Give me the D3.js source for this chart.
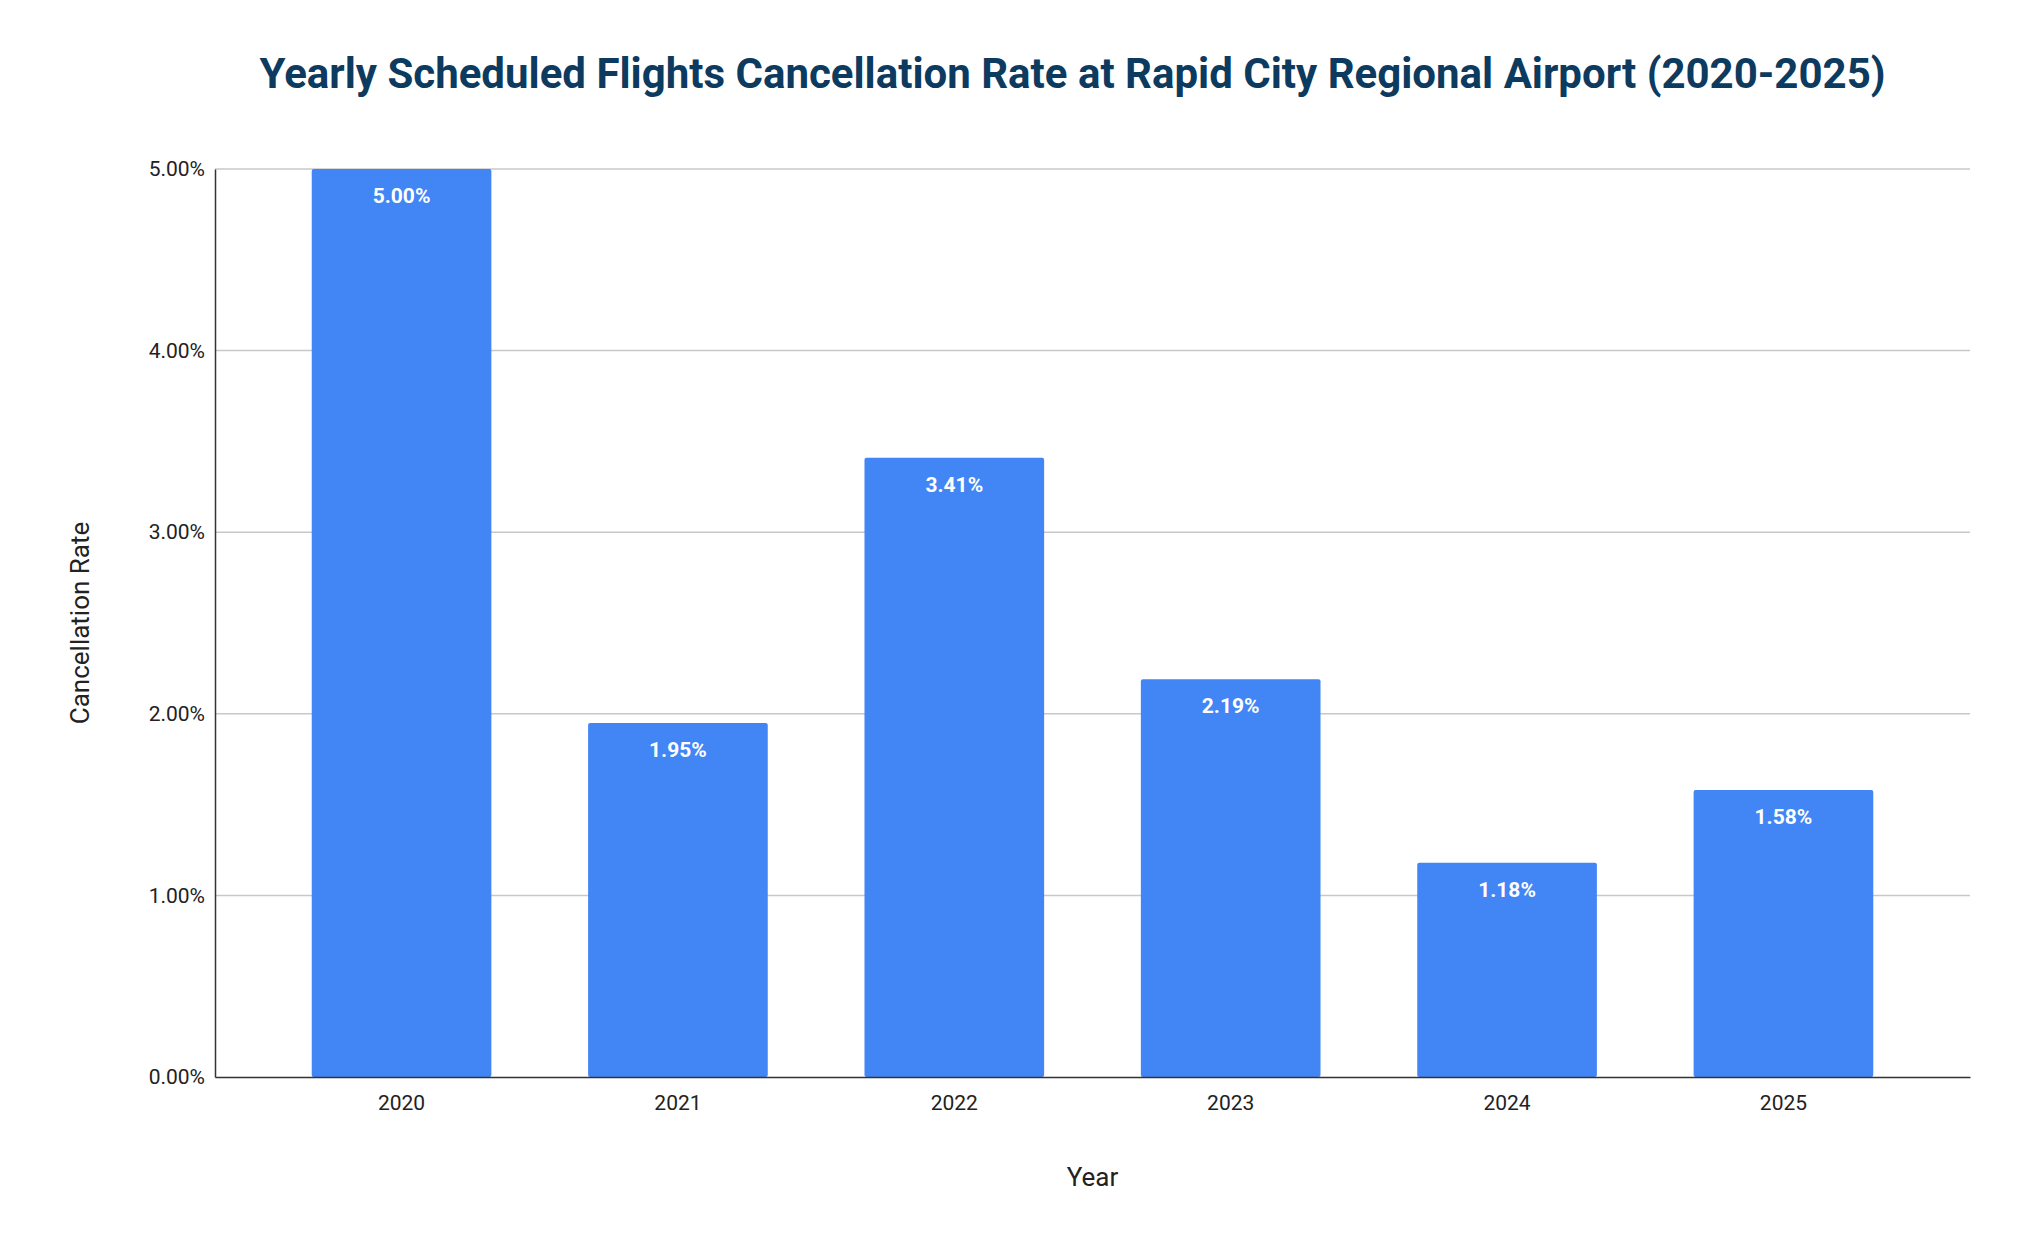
<!DOCTYPE html>
<html><head><meta charset="utf-8">
<script src="https://cdn.jsdelivr.net/npm/d3@7"></script>
<style>body{margin:0;background:#fff;font-family:Roboto,sans-serif;}</style>
</head><body><div id="chart"></div>
<script>
var years = ["2020","2021","2022","2023","2024","2025"];
var rates = [5.00, 1.95, 3.41, 2.19, 1.18, 1.58];
var yTicks = [0,1,2,3,4,5];

var W = 2024, H = 1250;
var m = {top:169, right:54, bottom:173, left:215};
var width = W - m.left - m.right, height = H - m.top - m.bottom;

var svg = d3.select("#chart").append("svg").attr("width", W).attr("height", H);
var g = svg.append("g").attr("transform", `translate(${m.left},${m.top})`);

var x = d3.scaleBand().domain(years).range([0, width]).paddingInner(0.35).paddingOuter(0.35);
var y = d3.scaleLinear().domain([0, 5]).range([height, 0]);

// grid
g.selectAll(".grid").data(yTicks.slice(1)).enter().append("line")
  .attr("x1", 0).attr("x2", width).attr("y1", d => y(d)).attr("y2", d => y(d))
  .attr("stroke", "#c8c8c8").attr("stroke-width", 1.5);

g.selectAll(".bar").data(rates).enter().append("rect")
  .attr("x", (d,i) => x(years[i])).attr("width", x.bandwidth())
  .attr("y", d => y(d)).attr("height", d => height - y(d))
  .attr("rx", 2).attr("fill", "#4285f4");

g.selectAll(".lbl").data(rates).enter().append("text")
  .attr("x", (d,i) => x(years[i]) + x.bandwidth()/2).attr("y", d => y(d) + 34)
  .attr("text-anchor", "middle").attr("fill", "#fff").attr("font-weight", "bold")
  .attr("font-size", 21).text(d => d.toFixed(2) + "%");

var yAxis = g.append("g").call(d3.axisLeft(y).tickValues(yTicks).tickFormat(d => d.toFixed(2) + "%").tickSize(0).tickPadding(10));
yAxis.select(".domain").attr("stroke", "#333").attr("stroke-width", 1.5);
yAxis.selectAll("text").attr("font-size", 21).attr("fill", "#222").attr("font-family", "Roboto");

var xAxis = g.append("g").attr("transform", `translate(0,${height})`)
  .call(d3.axisBottom(x).tickSize(0).tickPadding(18));
xAxis.select(".domain").attr("stroke", "#333").attr("stroke-width", 1.5);
xAxis.selectAll("text").attr("font-size", 21).attr("fill", "#222").attr("font-family", "Roboto");

svg.append("text").attr("x", m.left + width/2 - 20).attr("y", 88).attr("text-anchor", "middle")
  .attr("font-size", 42).attr("font-weight", "bold").attr("fill", "#0d3a5f")
  .text("Yearly Scheduled Flights Cancellation Rate at Rapid City Regional Airport (2020-2025)");

svg.append("text").attr("x", m.left + width/2).attr("y", 1186).attr("text-anchor", "middle")
  .attr("font-size", 26).attr("fill", "#222").text("Year");

svg.append("text").attr("transform", `translate(89,${m.top + height/2}) rotate(-90)`)
  .attr("text-anchor", "middle").attr("font-size", 26).attr("fill", "#222").text("Cancellation Rate");
</script></body></html>
